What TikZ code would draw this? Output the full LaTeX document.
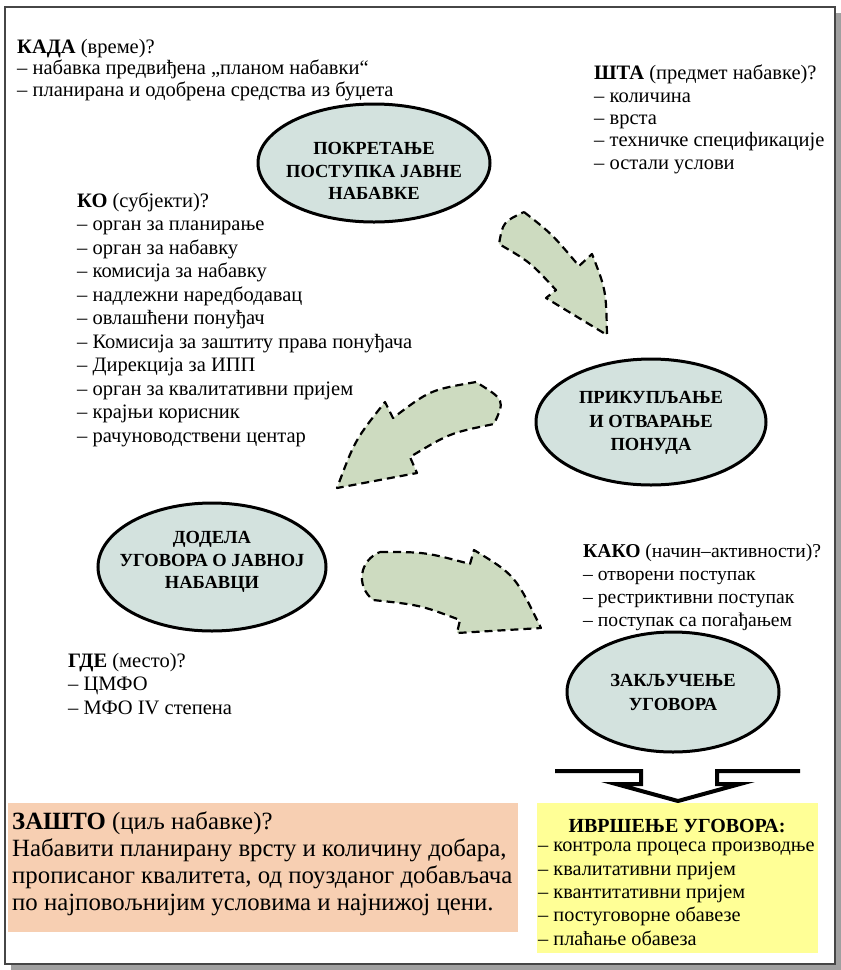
\documentclass[tikz,border=0pt]{standalone}
\usepackage{fontspec}
\setmainfont{Liberation Serif}
\usetikzlibrary{shapes.geometric,positioning}
\definecolor{elzel}{RGB}{211,226,222}
\definecolor{strzel}{RGB}{205,219,192}
\definecolor{breskva}{RGB}{247,207,178}
\definecolor{zuta}{RGB}{255,255,150}
\definecolor{senka}{RGB}{160,160,160}
\definecolor{okvir}{RGB}{70,70,70}
\newcommand{\pitanje}[2]{\textbf{#1} (#2)?}
\tikzset{
  fazael/.style={draw=black, line width=3pt, fill=elzel},
  fazatxt/.style={align=center, inner sep=0pt, font=\fontsize{18.5}{22.5}\selectfont\bfseries},
  spisak/.style={anchor=base west, align=left, inner sep=0pt, font=\fontsize{20.5}{23.5}\selectfont},
  strel/.style={draw=black, line width=2.2pt, dash pattern=on 8pt off 5pt, fill=strzel, line join=round},
  kutija/.style={anchor=north west, inner sep=0pt},
}

\begin{document}
\begin{tikzpicture}[x=1pt,y=-1pt]
  \useasboundingbox (0,0) rectangle (841,970);
  \fill[senka] (11,13) rectangle (841,970);
  \draw[okvir, line width=1.3pt, fill=white] (5,7) rectangle (835,964);

  % faze postupka
  \filldraw[fazael] (374,163) ellipse [x radius=116, y radius=59];
  \node[fazatxt] (pokretanje) at (374,171) {ПОКРЕТАЊЕ\\ПОСТУПКА ЈАВНЕ\\НАБАВКЕ};
  \filldraw[fazael] (651,422) ellipse [x radius=115, y radius=63];
  \node[fazatxt, font=\fontsize{18.5}{23.5}\selectfont\bfseries] (prikupljanje) at (651,423) {ПРИКУПЉАЊЕ\\И ОТВАРАЊЕ\\ПОНУДА};
  \filldraw[fazael] (212,567) ellipse [x radius=114, y radius=64];
  \node[fazatxt] (dodela) at (212,562) {ДОДЕЛА\\УГОВОРА О ЈАВНОЈ\\НАБАВЦИ};
  \filldraw[fazael] (673,692) ellipse [x radius=106, y radius=60];
  \node[fazatxt, font=\fontsize{18.5}{24}\selectfont\bfseries] (zakljucenje) at (673,692) {ЗАКЉУЧЕЊЕ\\УГОВОРА};

  % strelice izmedju faza
  \draw[strel] (524,212) .. controls (552,234) .. (579,266) -- (592,254)
    .. controls (606,290) .. (607,335) -- (546,298) -- (556,290)
    .. controls (530,262) .. (499,244) .. controls (503,222) .. cycle;
  \draw[strel] (476,382) .. controls (430,390) .. (393,418) -- (385,402)
    .. controls (355,440) .. (337,488) -- (417,473) -- (410,457)
    .. controls (450,433) .. (494,424) .. controls (505,400) .. cycle;
  \draw[strel] (380,552) .. controls (425,552) .. (470,564) -- (474,550)
    .. controls (515,575) .. (541,628) -- (457,633) -- (460,620)
    .. controls (420,605) .. (373,600) .. controls (355,585) and (360,560) .. cycle;

  % pitanja (sidro je osnovna linija poslednjeg reda)
  \node[spisak, font=\fontsize{20.5}{21.5}\selectfont] (kada) at (17,96)
    {\pitanje{КАДА}{време}\\– набавка предвиђена „планом набавки“\\– планирана и одобрена средства из буџета};
  \node[spisak, font=\fontsize{20.5}{22.3}\selectfont] (sta) at (594,169)
    {\pitanje{ШТА}{предмет набавке}\\– количина\\– врста\\– техничке спецификације\\– остали услови};
  \node[spisak] (ko) at (77,442)
    {\pitanje{КО}{субјекти}\\– орган за планирање\\– орган за набавку\\– комисија за набавку\\– надлежни наредбодавац\\– овлашћени понуђач\\– Комисија за заштиту права понуђача\\– Дирекција за ИПП\\– орган за квалитативни пријем\\– крајњи корисник\\– рачуноводствени центар};
  \node[spisak, font=\fontsize{19.6}{23}\selectfont] (kako) at (583,626)
    {\pitanje{КАКО}{начин–активности}\\– отворени поступак\\– рестриктивни поступак\\– поступак са погађањем};
  \node[spisak] (gde) at (68,714)
    {\pitanje{ГДЕ}{место}\\– ЦМФО\\– МФО IV степена};

  % izvrsenje
  \draw[line width=4pt, line join=miter] (555,771) -- (641,771) -- (641,784) -- (616,784)
    -- (678,801) -- (740,784) -- (717,784) -- (717,771) -- (800,771);

  \node[kutija, fill=breskva, minimum width=510, minimum height=129] (zasto) at (8,803) {};
  \node[spisak, font=\fontsize{24.8}{27}\selectfont] (zastotxt) at (12,910)
    {\pitanje{ЗАШТО}{циљ набавке}\\Набавити планирану врсту и количину добара,\\прописаног квалитета, од поузданог добављача\\по најповољнијим условима и најнижој цени.};

  \node[kutija, fill=zuta, minimum width=281, minimum height=150] (izvrs) at (537,803) {};
  \node[inner sep=0pt, anchor=base, font=\fontsize{20}{23}\selectfont\bfseries] (izvrsnaslov) at (677,832) {ИВРШЕЊЕ УГОВОРА:};
  \node[spisak, font=\fontsize{20.3}{23.3}\selectfont] (izvrslista) at (538,945)
    {– контрола процеса производње\\– квалитативни пријем\\– квантитативни пријем\\– постуговорне обавезе\\– плаћање обавеза};
\end{tikzpicture}
\end{document}
